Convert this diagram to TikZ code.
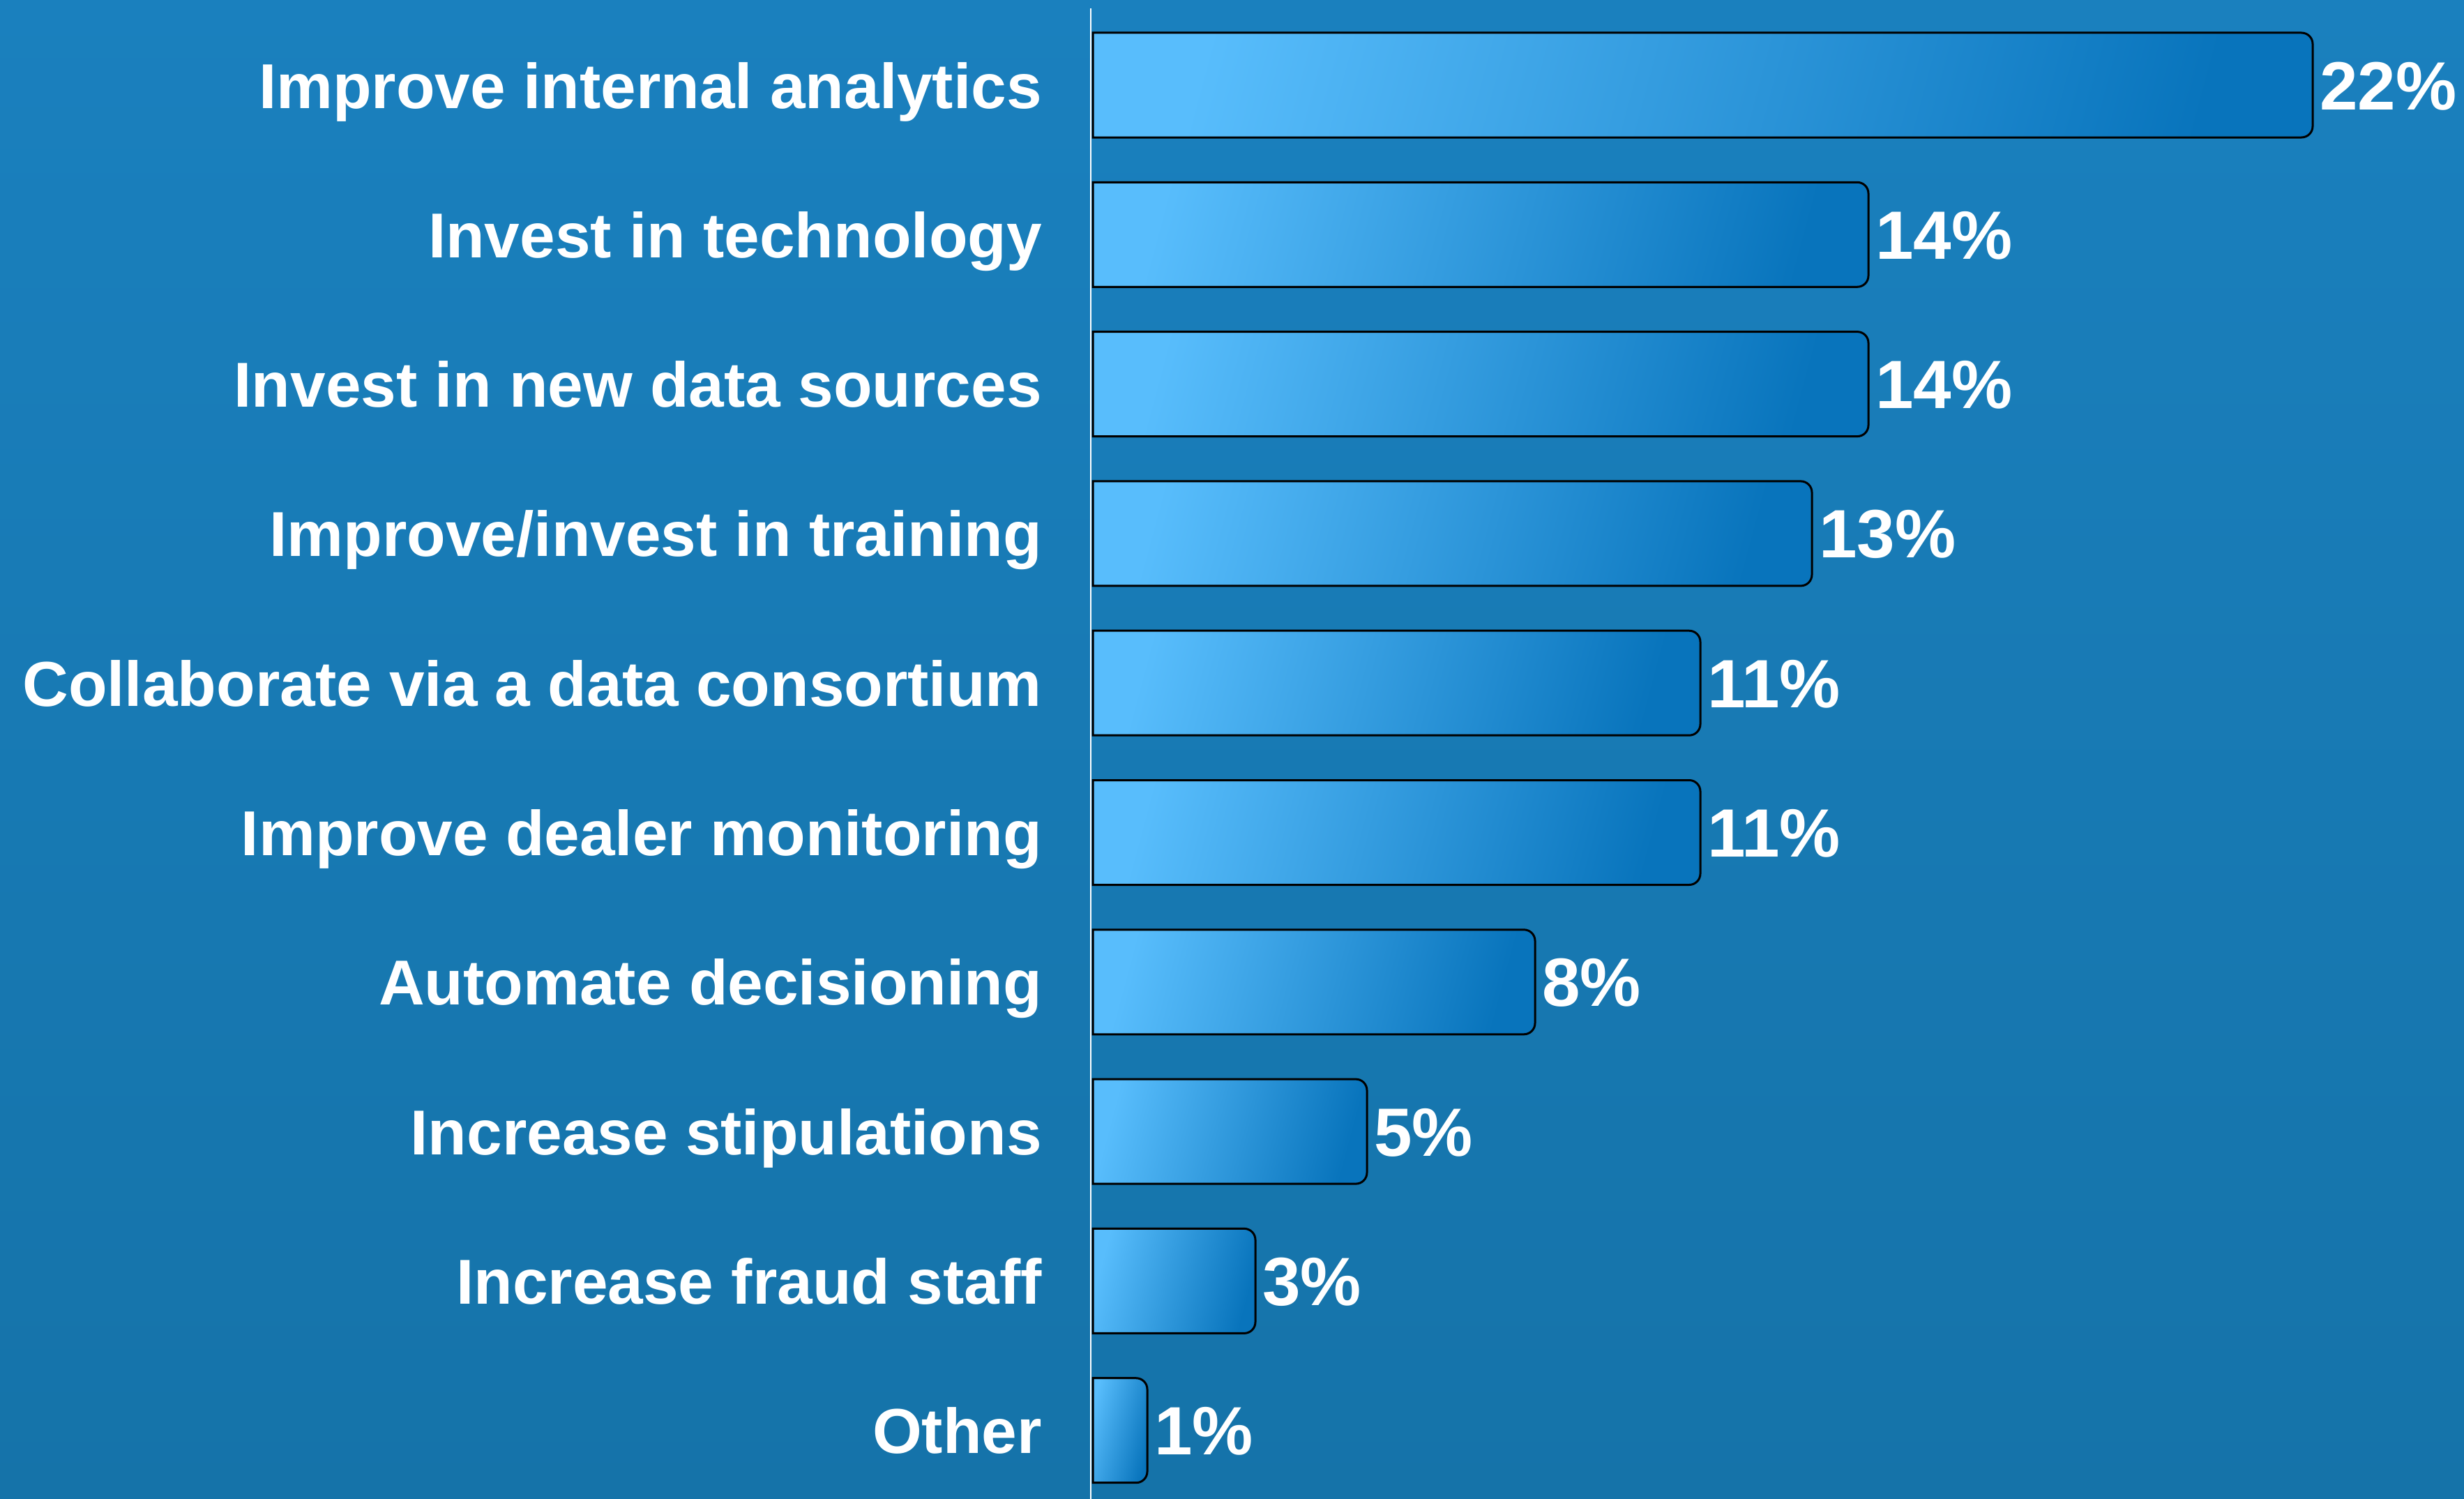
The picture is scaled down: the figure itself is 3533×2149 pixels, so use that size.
\documentclass[tikz,border=0pt]{standalone}
\usepackage{fontspec}
\setmainfont{Liberation Sans}
\definecolor{bgTop}{HTML}{1A80BE}
\definecolor{bgBot}{HTML}{1573A9}
\definecolor{barL}{HTML}{58BDFC}
\definecolor{barR}{HTML}{0874BC}
\begin{document}
\begin{tikzpicture}[x=1pt,y=-1pt,
  barbox/.style={draw=black,line width=3pt,left color=barL,right color=barR,shading angle=75},
  catlabel/.style={text=white,font=\fontsize{91}{100}\selectfont\bfseries,anchor=base east,inner sep=0pt},
  pctlabel/.style={text=white,font=\fontsize{98}{110}\selectfont\bfseries,anchor=base west,inner sep=0pt}]
\useasboundingbox (0,0) rectangle (3533,2149);
\shade[top color=bgTop,bottom color=bgBot] (0,0) rectangle (3533,2149);
\draw[white,line width=2.5pt] (1564,12) coordinate (axtop) -- (1564,2149) coordinate (axbot);
\def\xz{1567}
\foreach \i/\xe/\lab/\pct in {
  0/3316/Improve internal analytics/22\%,
  1/2679/Invest in technology/14\%,
  2/2679/Invest in new data sources/14\%,
  3/2598/Improve\slash invest in training/13\%,
  4/2438/Collaborate via a data consortium/11\%,
  5/2438/Improve dealer monitoring/11\%,
  6/2201/Automate decisioning/8\%,
  7/1960/Increase stipulations/5\%,
  8/1800/Increase fraud staff/3\%,
  9/1645/Other/1\%}{
  \pgfmathsetmacro{\yt}{47+\i*214.3}
  \pgfmathsetmacro{\yb}{\yt+150}
  \pgfmathsetmacro{\yc}{\yt+75}
  \shade[barbox] (\xz,\yt) [rounded corners=16pt] -- (\xe,\yt) -- (\xe,\yb) [sharp corners] -- (\xz,\yb) -- cycle;
  \coordinate (bend\i) at (\xe,\yc);
  \node[catlabel] (cat\i) at (1494,\yc+33) {\lab};
  \node[pctlabel] (pct\i) at (\xe+10,\yc+35) {\pct};
}
\end{tikzpicture}
\end{document}
